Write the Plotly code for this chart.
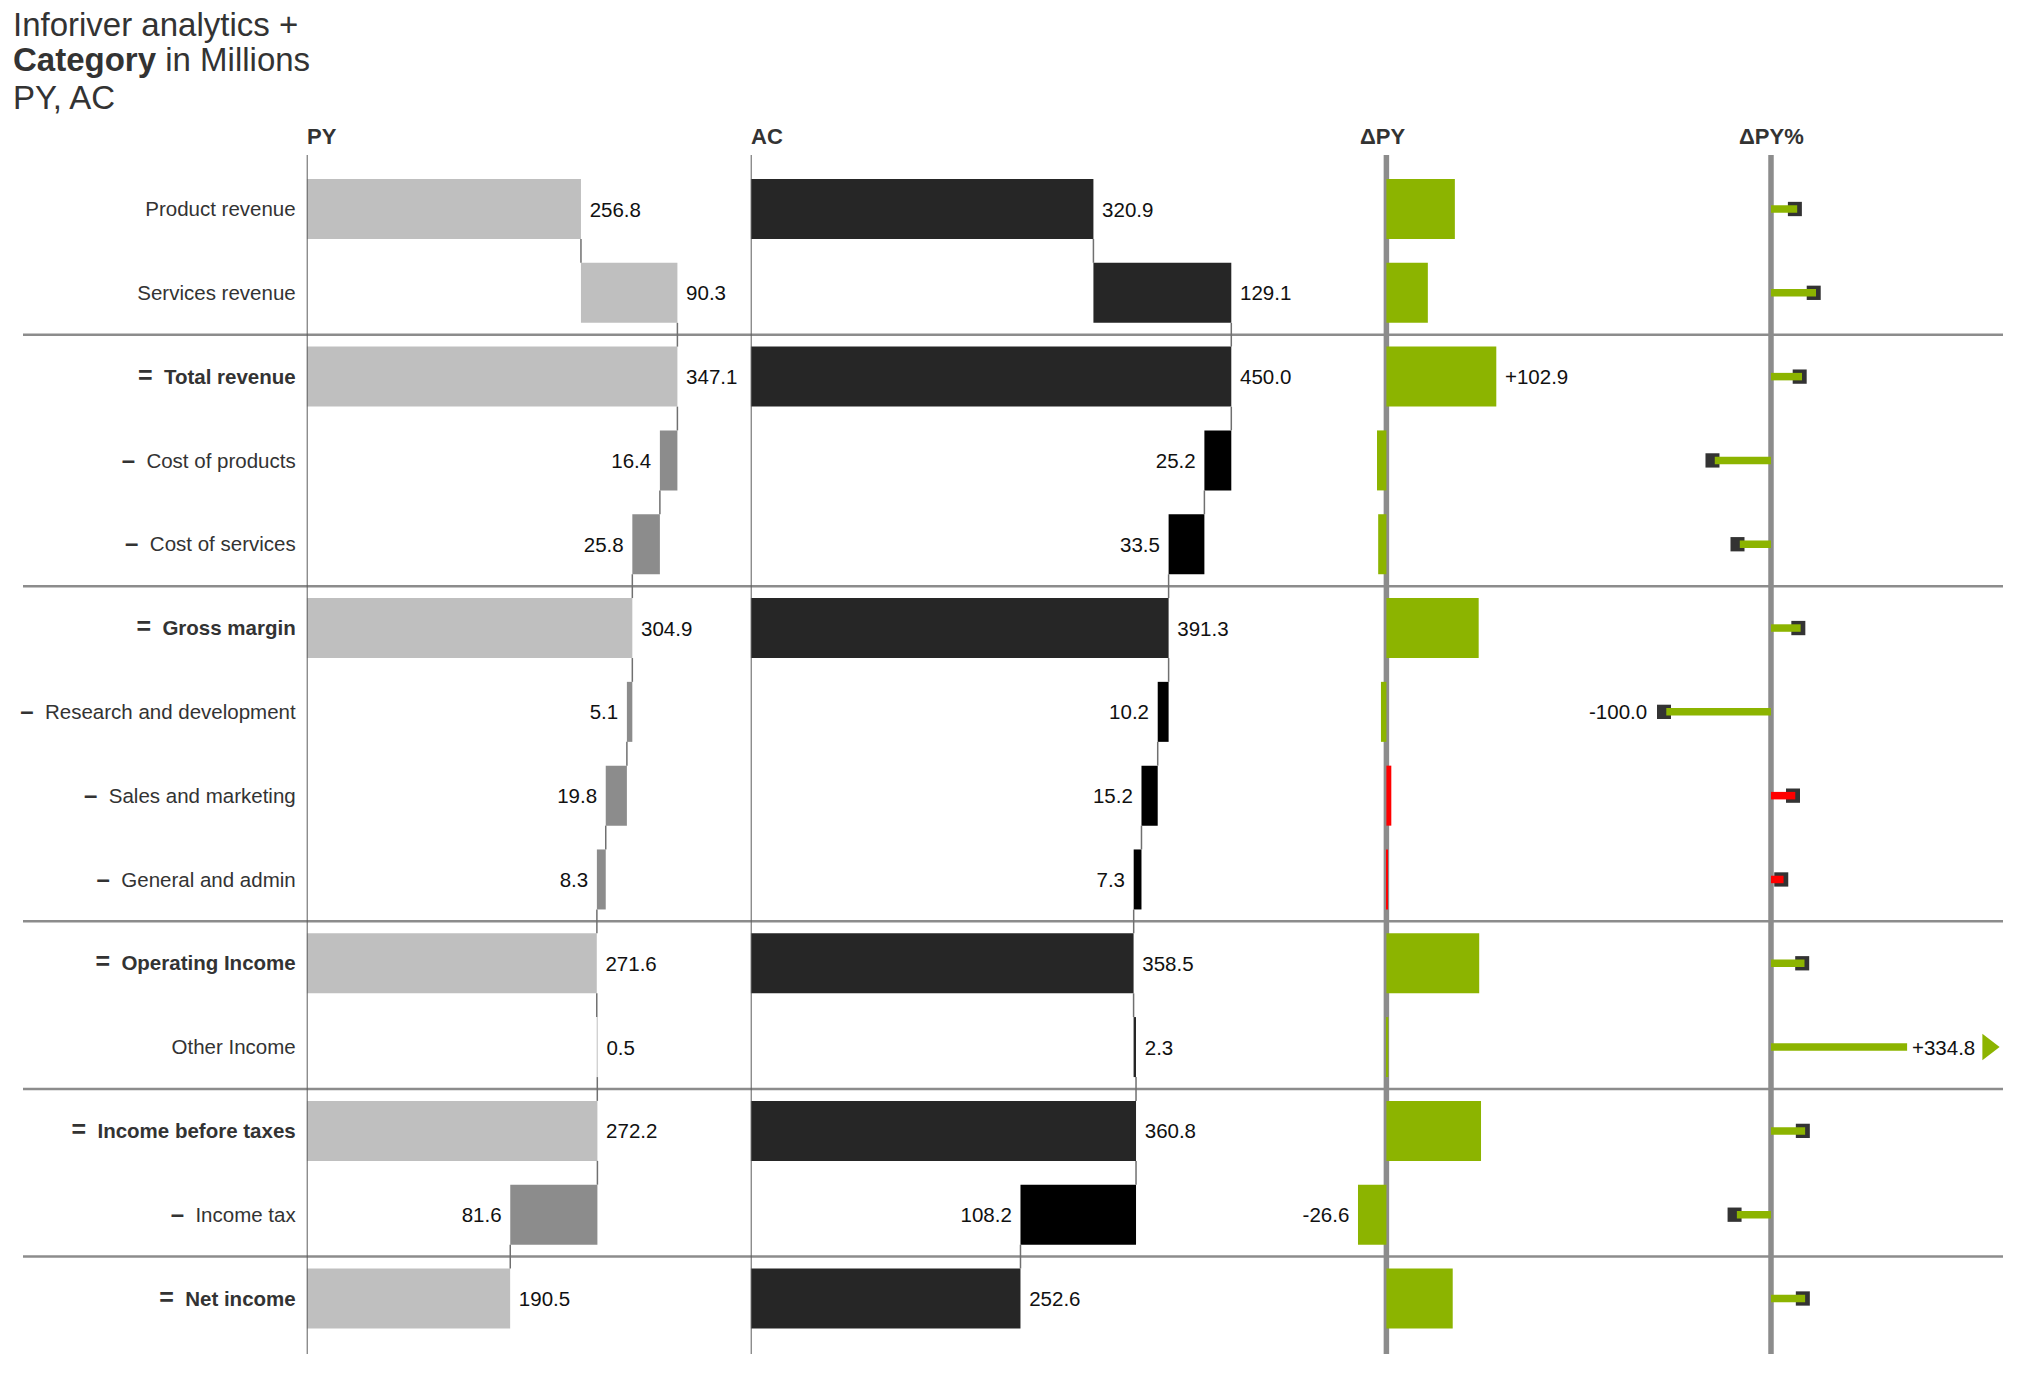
import plotly.graph_objects as go

# ---------------- data ----------------
categories = ["Product revenue", "Services revenue", "Total revenue", "Cost of products",
              "Cost of services", "Gross margin", "Research and development",
              "Sales and marketing", "General and admin", "Operating Income", "Other Income",
              "Income before taxes", "Income tax", "Net income"]
row_types = ["add", "add", "total", "sub", "sub", "total", "sub", "sub", "sub",
             "total", "add", "total", "sub", "total"]
py_values = [256.8, 90.3, 347.1, 16.4, 25.8, 304.9, 5.1, 19.8, 8.3, 271.6, 0.5, 272.2, 81.6, 190.5]
ac_values = [320.9, 129.1, 450.0, 25.2, 33.5, 391.3, 10.2, 15.2, 7.3, 358.5, 2.3, 360.8, 108.2, 252.6]
delta_py = [64.1, 38.8, 102.9, -8.8, -7.7, 86.4, -5.1, 4.6, 1.0, 86.9, 1.8, 88.6, -26.6, 62.1]
delta_py_pct = [25.0, 43.0, 29.6, -53.7, -29.8, 28.3, -100.0, 23.2, 12.0, 32.0, 334.8, 32.6, -32.6, 32.6]
delta_good = [True, True, True, True, True, True, True, False, False, True, True, True, True, True]
column_titles = ["PY", "AC", "ΔPY", "ΔPY%"]
title_lines = ["Inforiver analytics +", "<b>Category</b> in Millions", "PY, AC"]

# ---------------- style / geometry ----------------
W, H = 2026, 1388
FONT = "Liberation Sans, Arial, Helvetica, sans-serif"
LABEL_SIZE = 20.5
PX_PER_UNIT = 1.068
PX_PER_PCT = 1.047
PCT_CLIP = 130.0
PLOT_TOP, PLOT_BOTTOM = 155, 1354
ROW_FIRST, ROW_LAST = 209, 1298.5
n = len(categories)
pitch = (ROW_LAST - ROW_FIRST) / (n - 1)
BAR_W = 60 / pitch
GREEN, RED = "#8CB400", "#FF0000"
NB = "\u00a0"

y_top = -(ROW_FIRST - PLOT_TOP) / pitch
y_bot = (n - 1) + (PLOT_BOTTOM - ROW_LAST) / pitch


def xaxis_cfg(px0, px1, zero_px, scale):
    return dict(domain=[px0 / W, px1 / W],
                range=[-(zero_px - px0) / scale, (px1 - zero_px) / scale],
                visible=False, fixedrange=True)


# ---------------- waterfall geometry ----------------
def waterfall(values):
    run = 0.0
    bases, lengths, run_after = [], [], []
    for v, t in zip(values, row_types):
        if t == "total":
            base, length, run = 0.0, v, v
        elif t == "add":
            base, length = run, v
            run += v
        else:
            base, length = run, -v
            run -= v
        bases.append(base)
        lengths.append(length)
        run_after.append(run)
    return bases, lengths, run_after


def labels(values):
    out = []
    for v, t in zip(values, row_types):
        s = f"{v:.1f}"
        out.append(s + NB if t == "sub" else NB + s)
    return out


fig = go.Figure()

for idx, (vals, c_main, c_sub) in enumerate([(py_values, "#BFBFBF", "#8C8C8C"),
                                              (ac_values, "#262626", "#000000")]):
    xa = "x" if idx == 0 else "x2"
    bases, lengths, run_after = waterfall(vals)
    colors = [c_sub if t == "sub" else c_main for t in row_types]
    fig.add_trace(go.Bar(
        y=list(range(n)), x=lengths, base=bases, orientation="h", width=BAR_W,
        marker=dict(color=colors, line=dict(width=0)),
        text=labels(vals), textposition="outside", constraintext="none", cliponaxis=False,
        textfont=dict(family=FONT, size=LABEL_SIZE, color="#111"),
        xaxis=xa, yaxis="y", showlegend=False, hoverinfo="skip"))
    # connectors
    cx, cy = [], []
    for i in range(n - 1):
        cx += [run_after[i], run_after[i], None]
        cy += [i + BAR_W / 2, i + 1 - BAR_W / 2, None]
    fig.add_trace(go.Scatter(x=cx, y=cy, mode="lines", line=dict(color="#707070", width=1.5),
                             xaxis=xa, yaxis="y", showlegend=False, hoverinfo="skip"))

# ΔPY
d_colors = [GREEN if g else RED for g in delta_good]
dmax, dmin = max(delta_py), min(delta_py)
d_text = []
for v in delta_py:
    if v == dmax:
        d_text.append(NB + f"{v:+.1f}")
    elif v == dmin:
        d_text.append(f"{v:+.1f}" + NB)
    else:
        d_text.append("")
fig.add_trace(go.Bar(
    y=list(range(n)), x=delta_py, base=[0] * n, orientation="h", width=BAR_W,
    marker=dict(color=d_colors, line=dict(width=0)),
    text=d_text, textposition="outside", constraintext="none", cliponaxis=False,
    textfont=dict(family=FONT, size=LABEL_SIZE, color="#111"),
    xaxis="x3", yaxis="y", showlegend=False, hoverinfo="skip"))

# ΔPY%
pct_shown = [max(min(v, PCT_CLIP), -PCT_CLIP) for v in delta_py_pct]
clipped = [abs(v) > PCT_CLIP for v in delta_py_pct]
MARK_W, MARK_H = 14, 14.3
fig.add_trace(go.Bar(
    y=list(range(n)),
    x=[None if c else MARK_W / PX_PER_PCT for c in clipped],
    base=[None if c else v - 9.3 / PX_PER_PCT for v, c in zip(pct_shown, clipped)],
    orientation="h", width=MARK_H / pitch,
    marker=dict(color="#333333", line=dict(width=0)),
    xaxis="x4", yaxis="y", showlegend=False, hoverinfo="skip"))
fig.add_trace(go.Bar(
    y=list(range(n)), x=pct_shown, base=[0] * n, orientation="h", width=7.5 / pitch,
    marker=dict(color=d_colors, line=dict(width=0)),
    xaxis="x4", yaxis="y", showlegend=False, hoverinfo="skip"))

pmax, pmin = max(delta_py_pct), min(delta_py_pct)
annotations = []
tri_x, tri_y, tri_c = [], [], []
for i, (v, vs, c) in enumerate(zip(delta_py_pct, pct_shown, clipped)):
    if v == pmax:
        annotations.append(dict(x=vs, y=i, xref="x4", yref="y", text=f"{v:+.1f}",
                                showarrow=False, xanchor="left", yanchor="middle", xshift=3,
                                font=dict(family=FONT, size=LABEL_SIZE, color="#111")))
        if c:
            tri_x.append(vs + 81 / PX_PER_PCT)
            tri_y.append(i)
            tri_c.append(d_colors[i])
    elif v == pmin:
        annotations.append(dict(x=vs, y=i, xref="x4", yref="y", text=f"{v:+.1f}",
                                showarrow=False, xanchor="right", yanchor="middle", xshift=-17,
                                font=dict(family=FONT, size=LABEL_SIZE, color="#111")))
fig.add_trace(go.Scatter(x=tri_x, y=tri_y, mode="markers",
                         marker=dict(symbol="triangle-right", size=23, color=tri_c,
                                     line=dict(width=0)),
                         xaxis="x4", yaxis="y", showlegend=False, hoverinfo="skip",
                         cliponaxis=False))

# column headers
for xa, title, anchor, shift in zip(["x", "x2", "x3", "x4"], column_titles,
                                    ["left", "left", "center", "center"], [-2, -2, -4, 0]):
    annotations.append(dict(x=0, y=1 - 136.5 / H, xref=xa, yref="paper", text=f"<b>{title}</b>",
                            showarrow=False, xanchor=anchor, yanchor="middle", xshift=shift,
                            font=dict(family=FONT, size=22, color="#333")))

# title
for line, ypx in zip(title_lines, [24.7, 60, 97]):
    annotations.append(dict(x=11 / W, y=1 - ypx / H, xref="paper", yref="paper", text=line,
                            showarrow=False, xanchor="left", yanchor="middle",
                            font=dict(family=FONT, size=33, color="#333")))

# shapes: axis lines and separators
shapes = []
for xa, col, wd, layer in [("x", "#5c5c5c", 2, "above"), ("x2", "#5c5c5c", 2, "above"),
                           ("x3", "#8c8c8c", 5.5, "below"), ("x4", "#8c8c8c", 5.5, "below")]:
    shapes.append(dict(type="line", xref=xa, yref="y domain", x0=0, x1=0, y0=0, y1=1,
                       line=dict(color=col, width=wd), layer=layer))
for i in range(n - 1):
    if row_types[i + 1] == "total":
        shapes.append(dict(type="line", xref="paper", yref="y", x0=23 / W, x1=2003 / W,
                           y0=i + 0.5, y1=i + 0.5, line=dict(color="#8c8c8c", width=2.5),
                           layer="below"))

# y tick labels
EQ = "<span style='font-size:25px'>=</span>"
DASH = "<b><span style='font-size:24px'>–</span></b>"
ticktext = []
for c, t in zip(categories, row_types):
    if t == "total":
        ticktext.append(f"<b>{EQ}{NB}{NB}{c}</b>")
    elif t == "sub":
        ticktext.append(f"{DASH}{NB}{NB}{c}")
    else:
        ticktext.append(c)

fig.update_layout(
    width=W, height=H, margin=dict(l=0, r=0, t=0, b=0),
    paper_bgcolor="white", plot_bgcolor="rgba(0,0,0,0)",
    barmode="overlay", showlegend=False,
    font=dict(family=FONT, size=LABEL_SIZE, color="#333"),
    xaxis=xaxis_cfg(306.7, 740, 306.7, PX_PER_UNIT),
    xaxis2=xaxis_cfg(750.7, 1240, 750.7, PX_PER_UNIT),
    xaxis3=xaxis_cfg(1250, 1650, 1386.4, PX_PER_UNIT),
    xaxis4=xaxis_cfg(1500, 2026, 1771, PX_PER_PCT),
    yaxis=dict(domain=[1 - PLOT_BOTTOM / H, 1 - PLOT_TOP / H], range=[y_bot, y_top],
               anchor="x", tickmode="array", tickvals=list(range(n)), ticktext=ticktext,
               showgrid=False, zeroline=False, showline=False, ticks="",
               ticklabelstandoff=10, tickfont=dict(family=FONT, size=LABEL_SIZE, color="#333"),
               fixedrange=True),
    annotations=annotations, shapes=shapes,
)

fig.write_html("out.html")
